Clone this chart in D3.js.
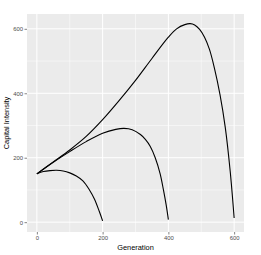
<!DOCTYPE html>
<html><head><meta charset="utf-8">
<script src="https://cdn.jsdelivr.net/npm/d3@7"></script>
<style>body{margin:0;background:#fff;}svg{display:block;font-family:"Liberation Sans",Arial,sans-serif;}</style>
</head><body>
<script>
const gen1 = [0,20,40,60,80,100,120,140,160,175,190,200];
const cap1 = [150,157,160,161,159,153,143,128,100,72,33,4];
const gen2 = [0,50,100,150,200,240,265,290,315,330,345,360,375,385,393,400];
const cap2 = [150,186,219,250,276,288,291,287,272,257,235,200,150,100,55,8];
const gen3 = [0,50,100,150,200,250,300,350,400,425,450,466,480,495,510,525,540,557,573,588,600];
const cap3 = [150,187,224,266,318,377,440,508,574,600,613,616,612,598,574,536,478,396,294,158,13];
const xTicks = [0,200,400,600];
const yTicks = [0,200,400,600];
const xMinor = [100,300,500];
const yMinor = [100,300,500];

const W=261,H=255;
const P={l:27,r:244,t:14,b:232};
const svg=d3.select("body").append("svg").attr("width",W).attr("height",H);
const x=d3.scaleLinear().domain([-30,630]).range([P.l,P.r]);
const y=d3.scaleLinear().domain([-30.5,646]).range([P.b,P.t]);

svg.append("rect").attr("x",P.l).attr("y",P.t).attr("width",P.r-P.l).attr("height",P.b-P.t).attr("fill","#EBEBEB");
const g=svg.append("g");
g.selectAll(".vmin").data(xMinor).enter().append("line").attr("x1",d=>x(d)).attr("x2",d=>x(d)).attr("y1",P.t).attr("y2",P.b).attr("stroke","#fff").attr("stroke-width",0.5);
g.selectAll(".hmin").data(yMinor).enter().append("line").attr("y1",d=>y(d)).attr("y2",d=>y(d)).attr("x1",P.l).attr("x2",P.r).attr("stroke","#fff").attr("stroke-width",0.5);
g.selectAll(".vmaj").data(xTicks).enter().append("line").attr("x1",d=>x(d)).attr("x2",d=>x(d)).attr("y1",P.t).attr("y2",P.b).attr("stroke","#fff").attr("stroke-width",1);
g.selectAll(".hmaj").data(yTicks).enter().append("line").attr("y1",d=>y(d)).attr("y2",d=>y(d)).attr("x1",P.l).attr("x2",P.r).attr("stroke","#fff").attr("stroke-width",1);

const line=d3.line().x(d=>x(d[0])).y(d=>y(d[1])).curve(d3.curveCatmullRom.alpha(0.5));
[[gen1,cap1],[gen2,cap2],[gen3,cap3]].forEach(([gs,cs])=>{
  svg.append("path").datum(gs.map((g,i)=>[g,cs[i]])).attr("d",line).attr("fill","none").attr("stroke","#000").attr("stroke-width",1.1);
});

const xa=d3.axisBottom(x).tickValues(xTicks).tickSize(2.5).tickPadding(1.5);
const xg=svg.append("g").attr("transform",`translate(0,${P.b})`).call(xa);
const ya=d3.axisLeft(y).tickValues(yTicks).tickSize(2.5).tickPadding(1.5);
const yg=svg.append("g").attr("transform",`translate(${P.l},0)`).call(ya);
[xg,yg].forEach(a=>{
  a.select(".domain").remove();
  a.selectAll(".tick line").attr("stroke","#333").attr("stroke-width",0.6);
  a.selectAll(".tick text").attr("fill","#4D4D4D").style("font-size","5.9px").style("font-family","Liberation Sans, Arial, sans-serif");
});
svg.append("text").attr("x",(P.l+P.r)/2).attr("y",250).attr("text-anchor","middle").style("font-size","7.4px").attr("fill","#000").text("Generation");
svg.append("text").attr("transform",`translate(9.3,${(P.t+P.b)/2}) rotate(-90)`).attr("text-anchor","middle").style("font-size","7.4px").attr("fill","#000").text("Capital Intensity");
</script>
</body></html>
